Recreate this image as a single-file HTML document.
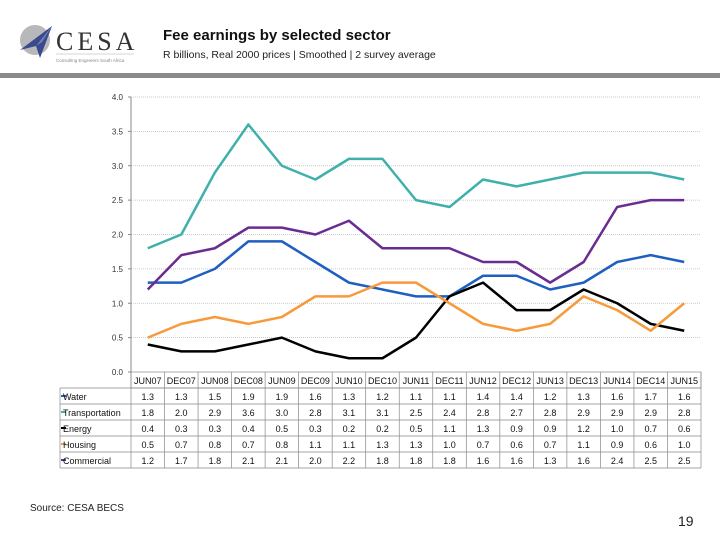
<!DOCTYPE html>
<html><head><meta charset="utf-8"><style>
body{margin:0;width:720px;height:540px;background:#fff;font-family:"Liberation Sans",sans-serif;overflow:hidden;position:relative}
.abs{position:absolute}
</style></head><body>
<div class="abs" style="left:18px;top:22px;width:120px;height:42px">
<svg width="120" height="42"><circle cx="17" cy="18" r="15" fill="#b8b8bc"/><polygon points="2,28 34,4 22,36 18,24" fill="#3a4a8c"/><polygon points="18,24 34,4 24,20" fill="#6f86c0"/>
<text x="38" y="28" font-family="Liberation Serif" font-size="26" letter-spacing="4" fill="#333">CESA</text>
<line x1="38" y1="32" x2="116" y2="32" stroke="#aaa" stroke-width="0.6"/>
<text x="38" y="40" font-size="4.5" fill="#888">Consulting Engineers South Africa</text></svg></div>
<div class="abs" style="left:163px;top:27px;font-size:15px;font-weight:bold;color:#111">Fee earnings by selected sector</div>
<div class="abs" style="left:163px;top:49px;font-size:10.5px;color:#222">R billions, Real 2000 prices | Smoothed | 2 survey average</div>
<div class="abs" style="left:0;top:73px;width:720px;height:5px;background:#8a8a8a"></div>
<svg class="abs" style="left:0;top:0" width="720" height="540" id="chart"></svg>
<div class="abs" style="left:30px;top:503px;font-size:10px;color:#222">Source: CESA BECS</div>
<div class="abs" style="left:678px;top:513px;font-size:14px;color:#222">19</div>
<script>
const categories=["JUN07","DEC07","JUN08","DEC08","JUN09","DEC09","JUN10","DEC10","JUN11","DEC11","JUN12","DEC12","JUN13","DEC13","JUN14","DEC14","JUN15"];
const seriesNames=["Water","Transportation","Energy","Housing","Commercial"];
const seriesColors=["#1f5fbf","#3fb0ac","#000000","#f79a3c","#6a2c91"];
const water=[1.3,1.3,1.5,1.9,1.9,1.6,1.3,1.2,1.1,1.1,1.4,1.4,1.2,1.3,1.6,1.7,1.6];
const transportation=[1.8,2.0,2.9,3.6,3.0,2.8,3.1,3.1,2.5,2.4,2.8,2.7,2.8,2.9,2.9,2.9,2.8];
const energy=[0.4,0.3,0.3,0.4,0.5,0.3,0.2,0.2,0.5,1.1,1.3,0.9,0.9,1.2,1.0,0.7,0.6];
const housing=[0.5,0.7,0.8,0.7,0.8,1.1,1.1,1.3,1.3,1.0,0.7,0.6,0.7,1.1,0.9,0.6,1.0];
const commercial=[1.2,1.7,1.8,2.1,2.1,2.0,2.2,1.8,1.8,1.8,1.6,1.6,1.3,1.6,2.4,2.5,2.5];
const yTicks=[0,0.5,1,1.5,2,2.5,3,3.5,4];
const series=[water,transportation,energy,housing,commercial];
const NS="http://www.w3.org/2000/svg";
const svg=document.getElementById('chart');
const x0=131,x1=701,yTop=97,yBot=372;
const cw=(x1-x0)/categories.length;
const xs=i=>x0+cw*(i+0.5);
const ys=v=>yBot-(v/4)*(yBot-yTop);
function mk(t,a){const e=document.createElementNS(NS,t);for(const k in a)e.setAttribute(k,a[k]);svg.appendChild(e);return e;}
yTicks.forEach(v=>{
 if(v>0){const g=mk('line',{x1:x0,x2:x1,y1:ys(v),y2:ys(v),stroke:'#bbb','stroke-dasharray':'1,1','stroke-width':0.8});
 
 }
 const t=mk('text',{x:x0-8,y:ys(v)+3,'text-anchor':'end','font-size':8,fill:'#333'});t.textContent=v.toFixed(1);
 
 
 mk('line',{x1:x0-3,x2:x0,y1:ys(v),y2:ys(v),stroke:'#888'});
});
const ax=mk('line',{x1:x0,x2:x0,y1:yTop,y2:yBot,stroke:'#888'});


series.forEach((s,k)=>{
 const p=mk('polyline',{points:s.map((v,i)=>xs(i)+','+ys(v)).join(' '),fill:'none',stroke:seriesColors[k],'stroke-width':2.5,'stroke-linejoin':'round'});
 
 
});
// table
const rowH=16,tTop=372;
const tl=mk('rect',{x:x0,y:tTop,width:x1-x0,height:rowH,fill:'none',stroke:'#888','stroke-width':0.7});
categories.forEach((c,i)=>{
 mk('line',{x1:x0+cw*i,x2:x0+cw*i,y1:tTop,y2:tTop+rowH*6,stroke:'#888','stroke-width':0.7});
 const t=mk('text',{x:xs(i),y:tTop+12,'text-anchor':'middle','font-size':9,fill:'#111'});t.textContent=c;
 
 
});
mk('line',{x1:x1,x2:x1,y1:tTop,y2:tTop+rowH*6,stroke:'#888','stroke-width':0.7});
series.forEach((s,k)=>{
 const y=tTop+rowH*(k+1);
 mk('line',{x1:60,x2:x1,y1:y,y2:y,stroke:'#888','stroke-width':0.7});
 mk('line',{x1:61,x2:66,y1:y+8,y2:y+8,stroke:seriesColors[k],'stroke-width':2});
 const l=mk('text',{x:63,y:y+12,'font-size':9,fill:'#111'});l.textContent=seriesNames[k];
 
 
 s.forEach((v,i)=>{const t=mk('text',{x:xs(i),y:y+12,'text-anchor':'middle','font-size':9,fill:'#111'});t.textContent=v.toFixed(1);
 
 });
});
mk('line',{x1:60,x2:x1,y1:tTop+rowH*6,y2:tTop+rowH*6,stroke:'#888','stroke-width':0.7});
mk('line',{x1:60,x2:60,y1:tTop+rowH,y2:tTop+rowH*6,stroke:'#888','stroke-width':0.7});
</script>
</body></html>
